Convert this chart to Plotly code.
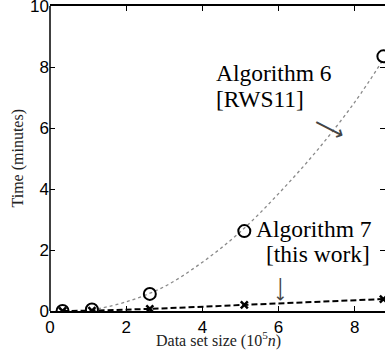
import plotly.graph_objects as go

# Data (10^5 n, minutes)
sizes = [0.33, 1.1, 2.62, 5.1, 8.75]
alg6_time = [0.0, 0.05, 0.56, 2.62, 8.35]
alg7_time = [0.0, 0.01, 0.07, 0.2, 0.39]
# dotted fitted curve for Algorithm 6
fit_x = [1.1, 2.0, 3.0, 4.0, 5.0, 6.0, 7.0, 8.0, 8.75]
fit_y = [0.03, 0.3, 0.8, 1.6, 2.6, 3.85, 5.25, 6.85, 8.25]
xticks = [0, 2, 4, 6, 8]
yticks = [0, 2, 4, 6, 8, 10]

W, H = 385, 351
L, R, T, B = 50, 0, 6, 40
PW, PH = W - L - R, H - T - B
XMAX = PW / 38.1


def px_to_x(px):
    return (px - L) / 38.1


def py_to_y(py):
    return (T + PH - py) / (PH / 10)


fig = go.Figure()
fig.add_trace(go.Scatter(x=fit_x, y=fit_y, mode="lines",
                         line=dict(color="#8a8a8a", width=1.3, dash="dot", shape="spline"),
                         showlegend=False, hoverinfo="skip"))
fig.add_trace(go.Scatter(x=sizes, y=alg7_time, mode="lines+markers",
                         line=dict(color="black", width=2, dash="6px,3px"),
                         marker=dict(symbol="x-thin-open", size=7, line=dict(color="black", width=2.5)),
                         showlegend=False))
fig.add_trace(go.Scatter(x=sizes, y=alg6_time, mode="markers",
                         marker=dict(symbol="circle-open", size=12, color="black", line=dict(color="black", width=2)),
                         showlegend=False))

# left axis line
fig.add_shape(type="line", xref="paper", yref="paper", x0=0, x1=0, y0=0, y1=1,
              line=dict(color="black", width=1.5))

serif = "Liberation Serif, Times New Roman, serif"
ann = [
    dict(x=214, y=73, text="Algorithm 6"),
    dict(x=214, y=99, text="[RWS11]"),
    dict(x=254, y=229, text="Algorithm 7"),
    dict(x=264, y=254, text="[this work]"),
]
for a in ann:
    fig.add_annotation(x=px_to_x(a["x"]), y=py_to_y(a["y"]), xref="x", yref="y",
                       text=a["text"], showarrow=False, xanchor="left", yanchor="middle",
                       font=dict(family=serif, size=23.5, color="black"))
fig.add_annotation(x=px_to_x(330), y=py_to_y(128), xref="x", yref="y", text="⟶",
                   textangle=27, showarrow=False,
                   font=dict(family="DejaVu Sans", size=22, color="#444"))
fig.add_annotation(x=px_to_x(281), y=py_to_y(289), xref="x", yref="y", text="⟶",
                   textangle=90, showarrow=False,
                   font=dict(family="DejaVu Sans", size=17, color="#444"))

# axis titles
fig.add_annotation(x=(218 - L) / PW, y=0, xref="paper", yref="paper", yshift=-28,
                   text="Data set size (10<sup>5</sup><i>n</i>)", showarrow=False,
                   xanchor="center", yanchor="middle",
                   font=dict(family=serif, size=16, color="#222"))
fig.add_annotation(x=0, y=0.5, xref="paper", yref="paper", xshift=-33,
                   text="Time (minutes)", showarrow=False, textangle=-90,
                   xanchor="center", yanchor="middle",
                   font=dict(family=serif, size=16, color="#222"))

fig.update_layout(
    width=W, height=H,
    margin=dict(l=L, r=R, t=T, b=B),
    paper_bgcolor="white", plot_bgcolor="white",
    font=dict(family="Liberation Sans, Arial, sans-serif", size=17, color="black"),
    xaxis=dict(range=[0, XMAX], tickvals=xticks, ticks="inside", ticklen=5, tickwidth=1,
               tickcolor="black", showline=True, linecolor="black", linewidth=1.5, mirror="ticks",
               showgrid=False, zeroline=False, automargin=False, ticklabelstandoff=0,
               ticklabeloverflow="allow"),
    yaxis=dict(range=[0, 10], tickvals=yticks, ticks="inside", ticklen=5, tickwidth=1,
               tickcolor="black", showline=False, mirror="ticks",
               showgrid=False, zeroline=False, automargin=False, ticklabelstandoff=0,
               ticklabeloverflow="allow"),
)
fig.write_html("out.html", config={"displayModeBar": False},
               post_script="document.body.style.margin='0';document.body.style.overflow='hidden';")
